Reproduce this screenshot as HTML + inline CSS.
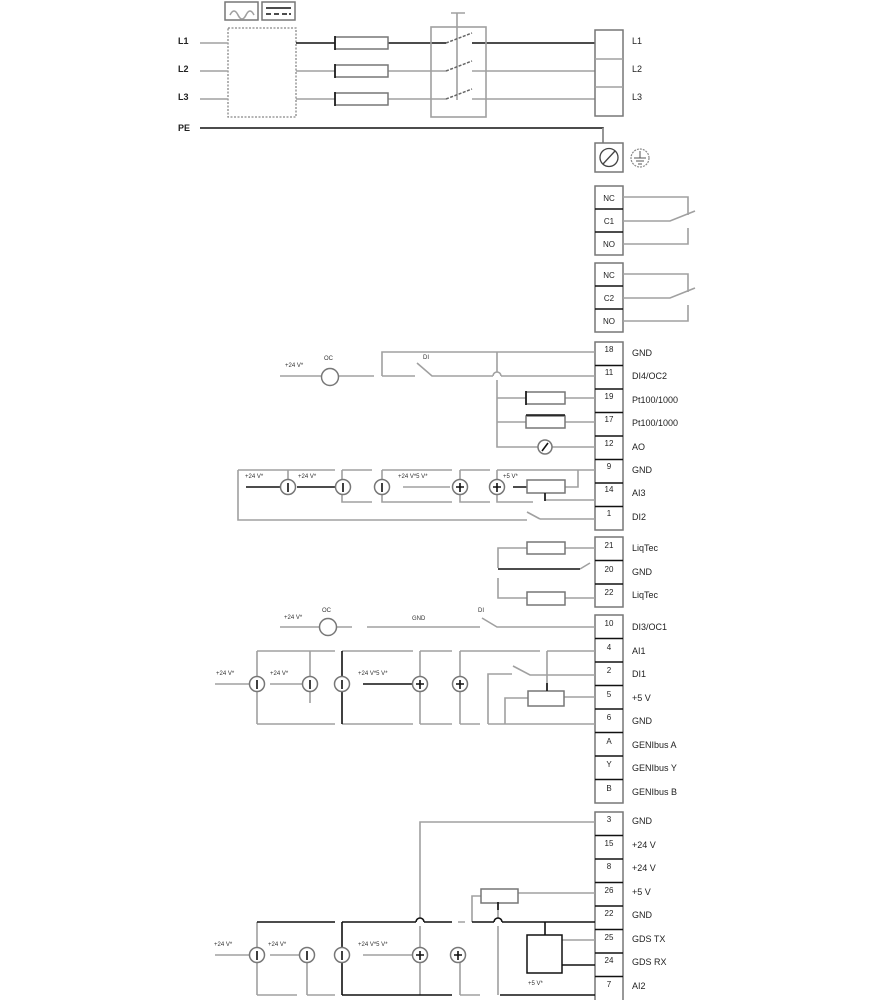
<!DOCTYPE html>
<html><head><meta charset="utf-8"><style>
html,body{margin:0;padding:0;background:#fff;}
svg{display:block;}
text{font-family:"Liberation Sans",sans-serif;}
.g{stroke:#a0a0a0;stroke-width:1.6;fill:none;}
.k{stroke:#111;stroke-width:1.6;fill:none;}
.c{stroke:#777;stroke-width:1.5;fill:#fff;}
.t{font-size:9px;fill:#222;}
.n{font-size:8px;fill:#222;text-anchor:middle;}
.s{font-size:6px;fill:#333;}
</style></head><body>
<svg width="875" height="1000" viewBox="0 0 875 1000" xmlns="http://www.w3.org/2000/svg">
<!-- top power -->
<rect x="225" y="2" width="33" height="18" class="c" stroke="#888"/>
<path d="M230 15 q4 -8 8 0 q4 8 8 0 q4 -8 8 0" class="g" stroke="#555" stroke-width="1"/>
<rect x="262" y="2" width="33" height="18" class="c"/>
<path d="M266 8 h25 M266 14 h5 M274 14 h5 M282 14 h5 M289 14 h2" class="k" stroke-width="1"/>
<rect x="228" y="28" width="68" height="89" fill="none" stroke="#888" stroke-width="1.3" stroke-dasharray="2,1.5"/>
<text x="178" y="44" class="t" font-weight="bold">L1</text>
<text x="178" y="72" class="t" font-weight="bold">L2</text>
<text x="178" y="100" class="t" font-weight="bold">L3</text>
<text x="178" y="131" class="t" font-weight="bold">PE</text>
<path d="M200 43H228M200 71H228M200 99H228" class="g"/>
<path d="M296 43H335M388 43H446M472 43H595" class="k"/>
<path d="M296 71H335M388 71H446M472 71H595M296 99H335M388 99H446M472 99H595" class="g"/>
<rect x="335" y="37" width="53" height="12" fill="#fff" stroke="#777" stroke-width="1.5"/>
<rect x="335" y="65" width="53" height="12" fill="#fff" stroke="#777" stroke-width="1.5"/>
<rect x="335" y="93" width="53" height="12" fill="#fff" stroke="#777" stroke-width="1.5"/>
<path d="M335 36V50M335 64V78M335 92V106" class="k" stroke-width="2"/>
<rect x="431" y="27" width="55" height="90" class="g"/>
<path d="M457 13V100M451 13H465" class="g"/>
<path d="M446 43L472 33M446 71L472 61M446 99L472 89" stroke="#666" stroke-width="1.5" stroke-dasharray="3,1.5"/>
<rect x="595" y="30" width="28" height="86" class="c"/>
<path d="M595 59H623M595 87H623" class="g"/>
<text x="632" y="44" class="t">L1</text><text x="632" y="72" class="t">L2</text><text x="632" y="100" class="t">L3</text>
<path d="M200 128H603V143" class="k"/>
<path d="M603 128V143" class="g"/>
<rect x="595" y="143" width="28" height="29" class="c"/>
<circle cx="609" cy="157.5" r="9" fill="none" stroke="#444" stroke-width="1.3"/>
<path d="M603 164L615 151" stroke="#444" stroke-width="1.3"/>
<circle cx="640" cy="158" r="9" fill="none" stroke="#888" stroke-width="1.2" stroke-dasharray="2,1"/>
<path d="M640 151V158M634 158H646M636 161H644M638 164H642" stroke="#555" stroke-width="1"/>
<!-- relays -->
<rect x="595" y="186" width="28" height="69" class="c"/>
<path d="M595 209H623M595 232H623" class="k" stroke-width="1.5"/>
<text x="609" y="201" class="n">NC</text><text x="609" y="224" class="n">C1</text><text x="609" y="247" class="n">NO</text>
<path d="M623 197H688V215M623 221H670L695 211M623 244H688V228" class="g"/>
<rect x="595" y="263" width="28" height="69" class="c"/>
<path d="M595 286H623M595 309H623" class="k" stroke-width="1.5"/>
<text x="609" y="278" class="n">NC</text><text x="609" y="301" class="n">C2</text><text x="609" y="324" class="n">NO</text>
<path d="M623 274H688V292M623 298H670L695 288M623 321H688V305" class="g"/>
<!-- block 3 terminals -->
<rect x="595" y="342" width="28" height="188" class="c"/>
<path d="M595 365.5H623M595 389H623M595 412.5H623M595 436H623M595 459.5H623M595 483H623M595 506.5H623" class="k" stroke-width="1.3"/>
<text x="609" y="352" class="n">18</text><text x="609" y="375" class="n">11</text><text x="609" y="399" class="n">19</text><text x="609" y="422" class="n">17</text><text x="609" y="446" class="n">12</text><text x="609" y="469" class="n">9</text><text x="609" y="492" class="n">14</text><text x="609" y="516" class="n">1</text>
<text x="632" y="356" class="t">GND</text><text x="632" y="379" class="t">DI4/OC2</text><text x="632" y="403" class="t">Pt100/1000</text><text x="632" y="426" class="t">Pt100/1000</text><text x="632" y="450" class="t">AO</text><text x="632" y="473" class="t">GND</text><text x="632" y="496" class="t">AI3</text><text x="632" y="520" class="t">DI2</text>
<text x="285" y="367" class="s">+24 V*</text><text x="324" y="360" class="s">OC</text><text x="423" y="359" class="s">DI</text>
<path d="M280 376H321M339 376H374M382 376V352H595M382 376H415L415 376M417 363L432 376H493M501 376H595M497 352V372M497 380V447H538M552 447H595M497 398H526M565 398H595M497 422H526M565 422H595" class="g"/>
<path d="M493 376 A4 4 0 0 1 501 376" class="g"/>
<circle cx="330" cy="377" r="8.5" class="c"/>
<rect x="526" y="392" width="39" height="12" class="c"/>
<rect x="526" y="416" width="39" height="12" class="c"/>
<path d="M526 391V405" class="k"/><path d="M526 415H565" class="k"/>
<circle cx="545" cy="447" r="7" class="c"/><path d="M542 451L548 443" class="k"/>
<!-- row 9/14/1 -->
<path d="M238 470H335M342 470H372M382 470H452M460 470H490M497 470H578V487H565M238 470V520H527L527 520M540 519H595M527 512L540 519M342 470V502H372M382 470V502H452M460 470V502H490M497 470V502H533M545 493V500H595M288 470V479M403 487H450M578 470H595" class="g"/>
<path d="M246 487H280M297 487H335M513 487H527" class="k"/>
<rect x="527" y="480" width="38" height="13" class="c"/>
<path d="M545 493V501" class="k" stroke-width="3"/>
<circle cx="288" cy="487" r="7.5" class="c"/><circle cx="343" cy="487" r="7.5" class="c"/><circle cx="382" cy="487" r="7.5" class="c"/><circle cx="460" cy="487" r="7.5" class="c"/><circle cx="497" cy="487" r="7.5" class="c"/>
<path d="M288 483V492M343 483V492M382 483V492M460 483V492M456 487H464M497 483V492M493 487H501" class="k" stroke-width="2"/>
<text x="245" y="478" class="s">+24 V*</text><text x="298" y="478" class="s">+24 V*</text><text x="398" y="478" class="s">+24 V*5 V*</text><text x="503" y="478" class="s">+5 V*</text>
<!-- block 4 -->
<rect x="595" y="537" width="28" height="70" class="c"/>
<path d="M595 560.5H623M595 584H623" class="k" stroke-width="1.3"/>
<text x="609" y="548" class="n">21</text><text x="609" y="572" class="n">20</text><text x="609" y="595" class="n">22</text>
<text x="632" y="551" class="t">LiqTec</text><text x="632" y="575" class="t">GND</text><text x="632" y="598" class="t">LiqTec</text>
<path d="M595 548H565M527 548H498V568M498 578V598H527M565 598H595M580 569L590 563" class="g"/>
<path d="M498 569H580" class="k"/>
<rect x="527" y="542" width="38" height="12" class="c"/><rect x="527" y="592" width="38" height="13" class="c"/>
<!-- block 5 -->
<rect x="595" y="615" width="28" height="188" class="c"/>
<path d="M595 638.5H623M595 662H623M595 685.5H623M595 709H623M595 732.5H623M595 756H623M595 779.5H623" class="k" stroke-width="1.3"/>
<text x="609" y="626" class="n">10</text><text x="609" y="650" class="n">4</text><text x="609" y="673" class="n">2</text><text x="609" y="697" class="n">5</text><text x="609" y="720" class="n">6</text><text x="609" y="744" class="n">A</text><text x="609" y="767" class="n">Y</text><text x="609" y="791" class="n">B</text>
<text x="632" y="630" class="t">DI3/OC1</text><text x="632" y="654" class="t">AI1</text><text x="632" y="677" class="t">DI1</text><text x="632" y="701" class="t">+5 V</text><text x="632" y="724" class="t">GND</text><text x="632" y="748" class="t">GENIbus A</text><text x="632" y="771" class="t">GENIbus Y</text><text x="632" y="795" class="t">GENIbus B</text>
<text x="284" y="619" class="s">+24 V*</text><text x="322" y="612" class="s">OC</text><text x="412" y="620" class="s">GND</text><text x="478" y="612" class="s">DI</text>
<path d="M280 627H320M337 627H352M367 627H480M482 618L497 627H595" class="g"/>
<circle cx="328" cy="627" r="8.5" class="c"/>
<path d="M257 651H335M342 651H413M420 651H452M460 651H540M547 651H595M547 651V693M257 651V724M310 651V703M420 651V724M460 651V724M257 724H335M342 724H413M420 724H452M460 724H480M488 724H595M488 724V674H512M513 666L530 675H595M505 724V698H528M564 697H595M215 684H249M270 684H302" class="g"/>
<path d="M342 651V724M363 684H413" class="k"/>
<rect x="528" y="691" width="36" height="15" class="c"/>
<path d="M547 683V691" class="k" stroke-width="3"/>
<circle cx="257" cy="684" r="7.5" class="c"/><circle cx="310" cy="684" r="7.5" class="c"/><circle cx="342" cy="684" r="7.5" class="c"/><circle cx="420" cy="684" r="7.5" class="c"/><circle cx="460" cy="684" r="7.5" class="c"/>
<path d="M257 680V689M310 680V689M342 680V689M420 680V689M416 684H424M460 680V689M456 684H464" class="k" stroke-width="2"/>
<text x="216" y="675" class="s">+24 V*</text><text x="270" y="675" class="s">+24 V*</text><text x="358" y="675" class="s">+24 V*5 V*</text>
<!-- block 6 -->
<rect x="595" y="812" width="28" height="190" class="c"/>
<path d="M595 835.5H623M595 859H623M595 882.5H623M595 906H623M595 929.5H623M595 953H623M595 976.5H623" class="k" stroke-width="1.3"/>
<text x="609" y="822" class="n">3</text><text x="609" y="846" class="n">15</text><text x="609" y="869" class="n">8</text><text x="609" y="893" class="n">26</text><text x="609" y="916" class="n">22</text><text x="609" y="940" class="n">25</text><text x="609" y="963" class="n">24</text><text x="609" y="987" class="n">7</text>
<text x="632" y="824" class="t">GND</text><text x="632" y="848" class="t">+24 V</text><text x="632" y="871" class="t">+24 V</text><text x="632" y="895" class="t">+5 V</text><text x="632" y="918" class="t">GND</text><text x="632" y="942" class="t">GDS TX</text><text x="632" y="965" class="t">GDS RX</text><text x="632" y="989" class="t">AI2</text>
<path d="M595 822H420V918M518 893H595M481 896H472V922M498 903V918M498 926V995M257 922V995M307 955V995M420 926V995M460 955V995M257 995H297M307 995H335M460 995H480M215 955H249M270 955H300M363 955H412M458 922H465M562 940H595" class="g"/>
<path d="M257 922H335M342 922H416M424 922H452M472 922H494M502 922H595M342 922V995M342 995H452M500 995H595M545 922V935M562 965H595" class="k"/>
<path d="M416 922A4 4 0 0 1 424 922M494 922A4 4 0 0 1 502 922" class="k"/>
<rect x="481" y="889" width="37" height="14" class="c"/>
<path d="M498 902V910" class="k" stroke-width="3"/>
<rect x="527" y="935" width="35" height="38" fill="#fff" stroke="#111" stroke-width="1.5"/>
<text x="528" y="985" class="s">+5 V*</text>
<circle cx="257" cy="955" r="7.5" class="c"/><circle cx="307" cy="955" r="7.5" class="c"/><circle cx="342" cy="955" r="7.5" class="c"/><circle cx="420" cy="955" r="7.5" class="c"/><circle cx="458" cy="955" r="7.5" class="c"/>
<path d="M257 951V960M307 951V960M342 951V960M420 951V960M416 955H424M458 951V960M454 955H462" class="k" stroke-width="2"/>
<text x="214" y="946" class="s">+24 V*</text><text x="268" y="946" class="s">+24 V*</text><text x="358" y="946" class="s">+24 V*5 V*</text>
</svg>
</body></html>
